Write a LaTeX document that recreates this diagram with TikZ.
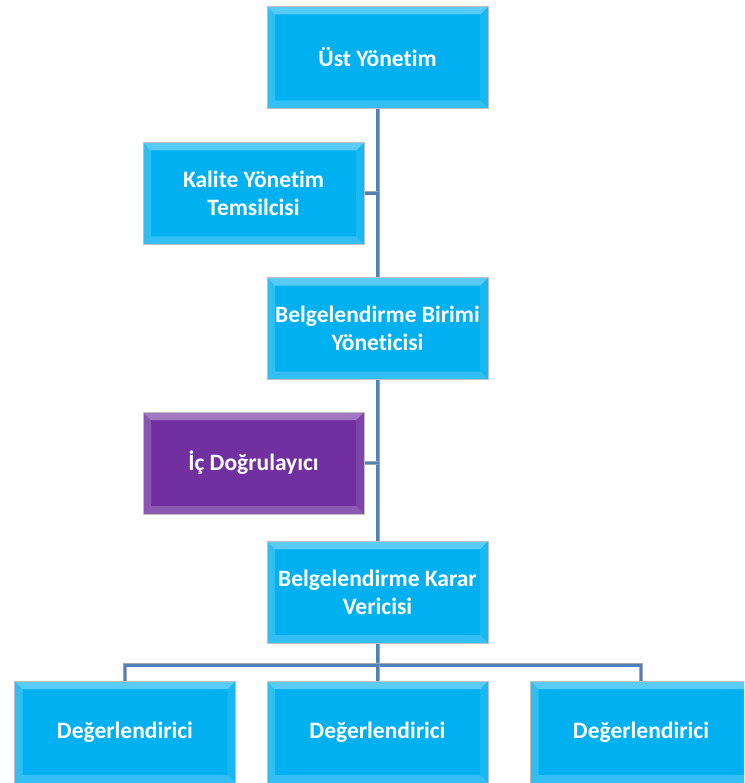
\documentclass[tikz,border=0pt]{standalone}
\usepackage{fontspec}
\setmainfont{Carlito}[Ligatures = CommonOff]
\usetikzlibrary{calc, backgrounds}
\definecolor{boxblue}{RGB}{0,176,240}
\definecolor{boxpurple}{RGB}{112,48,160}
\definecolor{linkblue}{RGB}{79,129,189}
\tikzset{
    unitbox/.style = {rectangle, fill = #1, draw = gray!50, line width = 0.8pt,
        minimum width = 221pt, minimum height = 102pt, align = center,
        text = white, font = \bfseries\fontsize{23.5}{28}\selectfont,
        path picture = {
            \coordinate (nw) at (path picture bounding box.north west);
            \coordinate (se) at (path picture bounding box.south east);
            \fill[white, opacity = 0.35] (nw) -- (nw -| se) -- ($(nw -| se) + (-8,8)$) -- ($(nw) + (8,8)$) -- cycle;
            \fill[white, opacity = 0.18] (nw) -- ($(nw) + (8,8)$) -- ($(se -| nw) + (8,-8)$) -- (se -| nw) -- cycle;
            \fill[white, opacity = 0.1] (se) -- (se |- nw) -- ($(se |- nw) + (-8,8)$) -- ($(se) + (-8,-8)$) -- cycle;
            \fill[white, opacity = 0.2] (se) -- (se -| nw) -- ($(se -| nw) + (8,-8)$) -- ($(se) + (-8,-8)$) -- cycle;
        }},
    unitbox/.default = boxblue,
    link/.style = {draw = linkblue, line width = 2.2pt,
        preaction = {draw = gray!70, line width = 4pt}}
}
\begin{document}
\begin{tikzpicture}[x = 1pt, y = -1pt]
    \useasboundingbox (0,0) rectangle (744,783);
    \clip (0,0) rectangle (744,783);
    % boxes
    \node[unitbox] (ust) at (377.5,57.5) {Üst Yönetim};
    \node[unitbox] (kalite) at (253.5,193.5) {Kalite Yönetim\\Temsilcisi};
    \node[unitbox] (birim) at (377.5,328.5) {Belgelendirme Birimi\\Yöneticisi};
    \node[unitbox = boxpurple] (ic) at (253.5,463) {İç Doğrulayıcı};
    \node[unitbox] (karar) at (377.5,592) {Belgelendirme Karar\\Vericisi};
    \node[unitbox] (deg1) at (125,732) {Değerlendirici};
    \node[unitbox] (deg2) at (377.5,732) {Değerlendirici};
    \node[unitbox] (deg3) at (641,732) {Değerlendirici};
    % connectors behind the boxes
    \coordinate (bus) at ($(karar.south) + (0,22)$);
    \begin{scope}[on background layer]
        \draw[link] (ust.center) -- (karar.center);
        \draw[link] (kalite.center) -- (kalite.center -| ust.center);
        \draw[link] (ic.center) -- (ic.center -| birim.center);
        \draw[link] (karar.center) -- (bus);
        \draw[link] (deg1.center) |- (bus) -| (deg3.center);
        \draw[link] (bus) -- (deg2.center);
    \end{scope}
\end{tikzpicture}
\end{document}
